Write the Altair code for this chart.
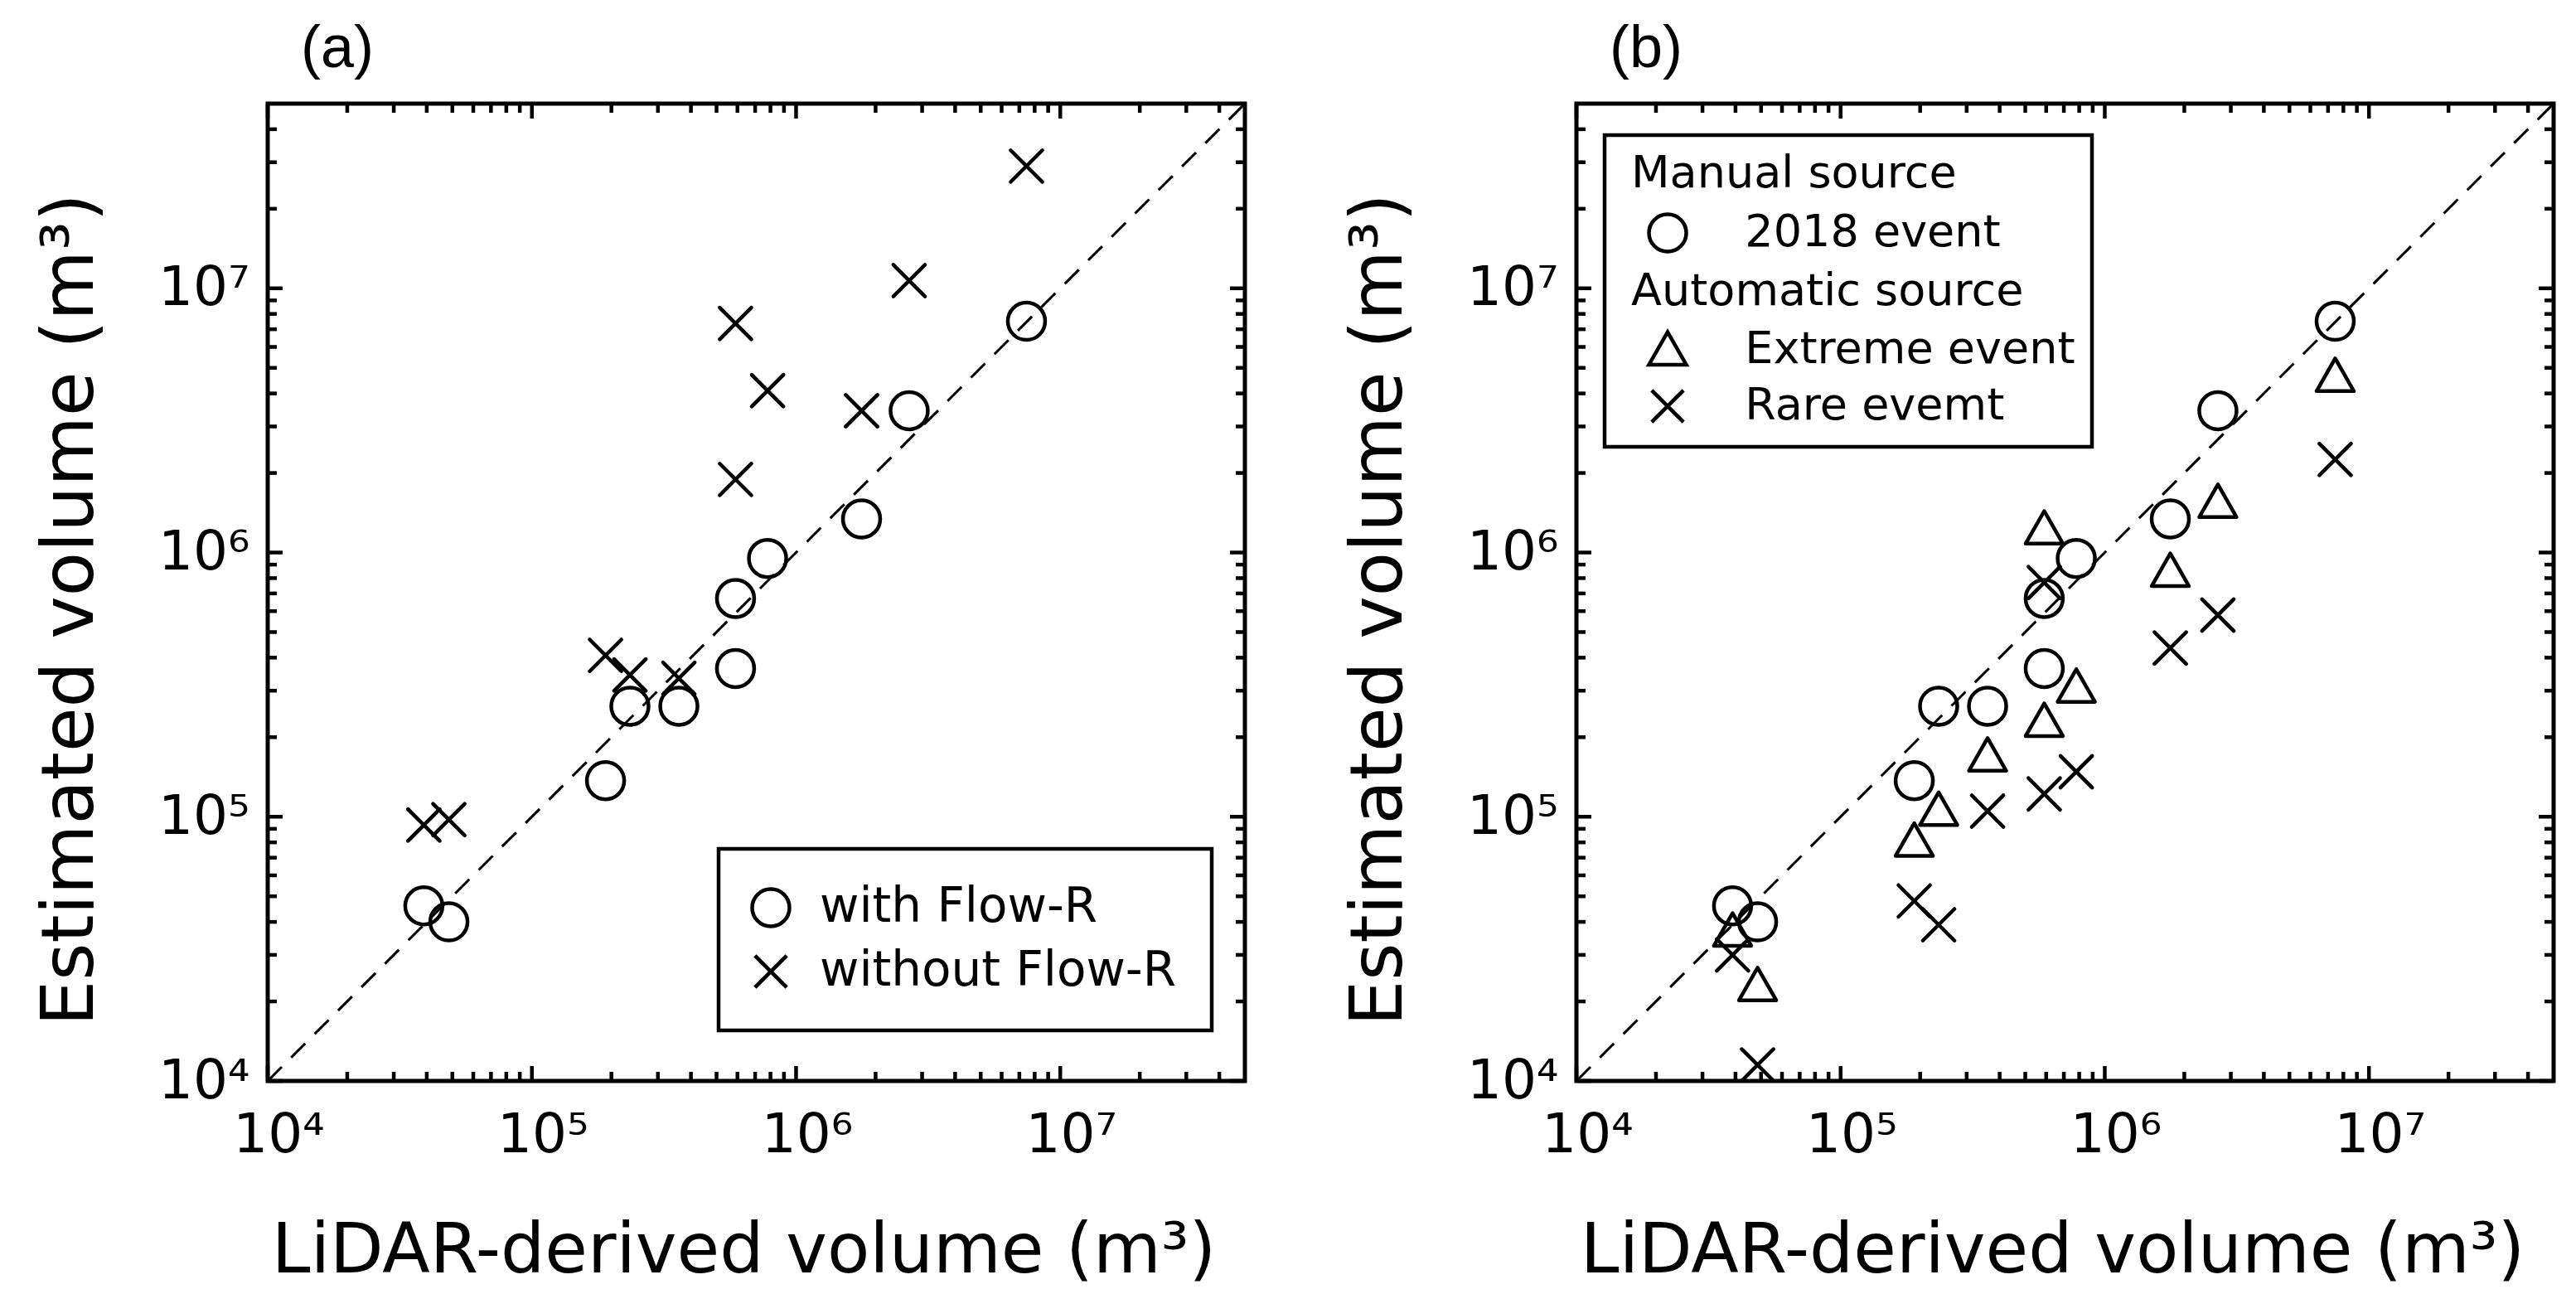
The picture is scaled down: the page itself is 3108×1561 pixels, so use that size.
import altair as alt
import pandas as pd

# ---------------- data ----------------
# LiDAR-derived volumes (x, m^3) of the 11 events, shared by every series
LIDAR = [3.9e4, 4.85e4, 1.9e5, 2.35e5, 3.6e5, 5.9e5, 5.9e5, 7.8e5, 1.77e6, 2.68e6, 7.45e6]
# panel (a)
WITH_FLOWR = [4.6e4, 4.0e4, 1.37e5, 2.62e5, 2.62e5, 6.7e5, 3.64e5, 9.5e5, 1.34e6, 3.44e6, 7.5e6]
WITHOUT_FLOWR = [9.3e4, 9.75e4, 4.08e5, 3.44e5, 3.34e5, 7.36e6, 1.89e6, 4.1e6, 3.44e6, 1.07e7, 2.9e7]
# panel (b)
EVENT_2018 = WITH_FLOWR
EXTREME = [3.7e4, 2.3e4, 8.1e4, 1.06e5, 1.7e5, 2.3e5, 1.23e6, 3.1e5, 8.5e5, 1.55e6, 4.65e6]
RARE = [3.0e4, 1.15e4, 4.8e4, 3.9e4, 1.05e5, 1.22e5, 7.7e5, 1.48e5, 4.35e5, 5.8e5, 2.25e6]

A_SERIES = ["with Flow-R", "without Flow-R"]
B_ENTRIES = ["Manual source", "2018 event", "Automatic source", "Extreme event", "Rare evemt"]
B_HEADERS = ["Manual source", "Automatic source"]

DOMAIN = [1e4, 5e7]
MAJOR_TICKS = [1e4, 1e5, 1e6, 1e7]
TICK_LABELS = ["10\u2074", "10\u2075", "10\u2076", "10\u2077"]
MINOR_MULT = [2, 3, 4, 5, 6, 7, 8, 9]
DIAG = [1e4, 5e7]

# ---------------- style ----------------
W = H = 1179
FONT = "DejaVu Sans"
CIRCLE = "circle"
XMARK = "M-0.85,-0.85L0.85,0.85M0.85,-0.85L-0.85,0.85"
TRIANGLE = "M0,-0.95L1,0.8L-1,0.8Z"
BLANK = "M0,0"
MSIZE = 2025
MSTROKE = 4.5
# indent of the legend items under their group headers (zero-width lead keeps the spaces)
INDENT = "\u200b" + "\u00a0" * 8

minor_ticks = [m * t for t in MAJOR_TICKS for m in MINOR_MULT if m * t < DOMAIN[1]]

label_expr = ""
for v, lab in zip(MAJOR_TICKS, TICK_LABELS):
    label_expr += f"datum.value < {v * 3} ? '{lab}' : "
label_expr += "''"

x_axis = alt.Axis(
    values=MAJOR_TICKS, labelExpr=label_expr, title="LiDAR-derived volume (m\u00b3)",
    grid=False, ticks=False, tickSize=0, domain=False, labelFlush=False, labelOverlap=False,
    labelFont=FONT, labelFontSize=66, labelColor="black", labelPadding=33, labelOffset=13,
    titleFont=FONT, titleFontSize=84, titleFontWeight="normal", titleColor="black", titlePadding=66,
    titleX=574,
)
y_axis = alt.Axis(
    values=MAJOR_TICKS, labelExpr=label_expr, title="Estimated volume (m\u00b3)",
    grid=False, ticks=False, tickSize=0, domain=False, labelFlush=False, labelOverlap=False,
    labelFont=FONT, labelFontSize=66, labelColor="black", labelPadding=22,
    titleFont=FONT, titleFontSize=87, titleFontWeight="normal", titleColor="black", titlePadding=61,
    titleY=610,
)


def scale():
    return alt.Scale(type="log", domain=DOMAIN, nice=False)


def X(field):
    return alt.X(field, type="quantitative", scale=scale(), axis=x_axis)


def Y(field):
    return alt.Y(field, type="quantitative", scale=scale(), axis=y_axis)


def edge_ticks(values, length):
    df = pd.DataFrame({"v": values})
    base = alt.Chart(df)
    kw = dict(color="black", strokeWidth=4.5)
    bottom = base.mark_rule(**kw).encode(x=X("v"), y=alt.value(H), y2=alt.value(H - length))
    top = base.mark_rule(**kw).encode(x=X("v"), y=alt.value(0), y2=alt.value(length))
    left = base.mark_rule(**kw).encode(y=Y("v"), x=alt.value(0), x2=alt.value(length))
    right = base.mark_rule(**kw).encode(y=Y("v"), x=alt.value(W), x2=alt.value(W - length))
    return [bottom, top, left, right]


def diag_line():
    df = pd.DataFrame({"x": DIAG, "y": DIAG})
    return alt.Chart(df).mark_line(color="black", strokeWidth=3, strokeDash=[24, 16], clip=True).encode(
        x=X("x"), y=Y("y"))


def points(df, domain, rng, legend):
    return alt.Chart(df).mark_point(
        filled=False, size=MSIZE, strokeWidth=MSTROKE, color="black", opacity=1,
        strokeCap="round", strokeJoin="round",
    ).encode(
        x=X("x"), y=Y("y"),
        shape=alt.Shape("series:N", scale=alt.Scale(domain=domain, range=rng), legend=legend),
    )


def title(txt):
    return alt.TitleParams(txt, anchor="start", frame="group", dx=40, dy=73, offset=28, fontSize=72,
                           font="Liberation Sans", fontWeight="normal", baseline="bottom", color="black")


# ---------------- panel (a) ----------------
df_a = pd.DataFrame({
    "x": LIDAR + LIDAR,
    "y": WITH_FLOWR + WITHOUT_FLOWR,
    "series": [A_SERIES[0]] * len(LIDAR) + [A_SERIES[1]] * len(LIDAR),
})
legend_a = alt.Legend(
    title=None, orient="none", legendX=544, legendY=899, padding=42, rowPadding=16,
    labelFont=FONT, labelFontSize=58, labelColor="black", labelOffset=30, labelLimit=1000,
    symbolOffset=-8,
    symbolSize=MSIZE, symbolStrokeWidth=MSTROKE, symbolStrokeColor="black",
    symbolFillColor="transparent", strokeColor="black", fillColor="white",
)
panel_a = alt.layer(
    *edge_ticks(MAJOR_TICKS, 18), *edge_ticks(minor_ticks, 11), diag_line(),
    points(df_a, A_SERIES, [CIRCLE, XMARK], legend_a),
).properties(width=W, height=H, title=title("(a)"))

# ---------------- panel (b) ----------------
b_names = [e if e in B_HEADERS else INDENT + e for e in B_ENTRIES]
df_b = pd.DataFrame({
    "x": LIDAR * 3,
    "y": EVENT_2018 + EXTREME + RARE,
    "series": [b_names[1]] * len(LIDAR) + [b_names[3]] * len(LIDAR) + [b_names[4]] * len(LIDAR),
})
legend_b = alt.Legend(
    title=None, orient="none", legendX=34, legendY=38, padding=20, rowPadding=12,
    labelFont=FONT, labelFontSize=54, labelColor="black", labelOffset={"expr": "-71"}, labelLimit=1000,
    symbolOffset=29,
    symbolSize=MSIZE, symbolStrokeWidth=MSTROKE, symbolStrokeColor="black",
    symbolFillColor="transparent", strokeColor="black", fillColor="white",
)
panel_b = alt.layer(
    *edge_ticks(MAJOR_TICKS, 18), *edge_ticks(minor_ticks, 11), diag_line(),
    points(df_b, b_names, [BLANK, CIRCLE, BLANK, TRIANGLE, XMARK], legend_b),
).properties(width=W, height=H, title=title("(b)"))

chart = alt.hconcat(panel_a, panel_b, spacing=111).resolve_scale(
    x="independent", y="independent", shape="independent"
).resolve_legend(shape="independent").properties(
    padding={"left": 31, "top": 12, "right": 5, "bottom": 0},
    background="white",
).configure_view(stroke="black", strokeWidth=5).configure_legend(strokeWidth=4.5)

chart.save("out.html", embed_options={"renderer": "svg", "actions": False})
